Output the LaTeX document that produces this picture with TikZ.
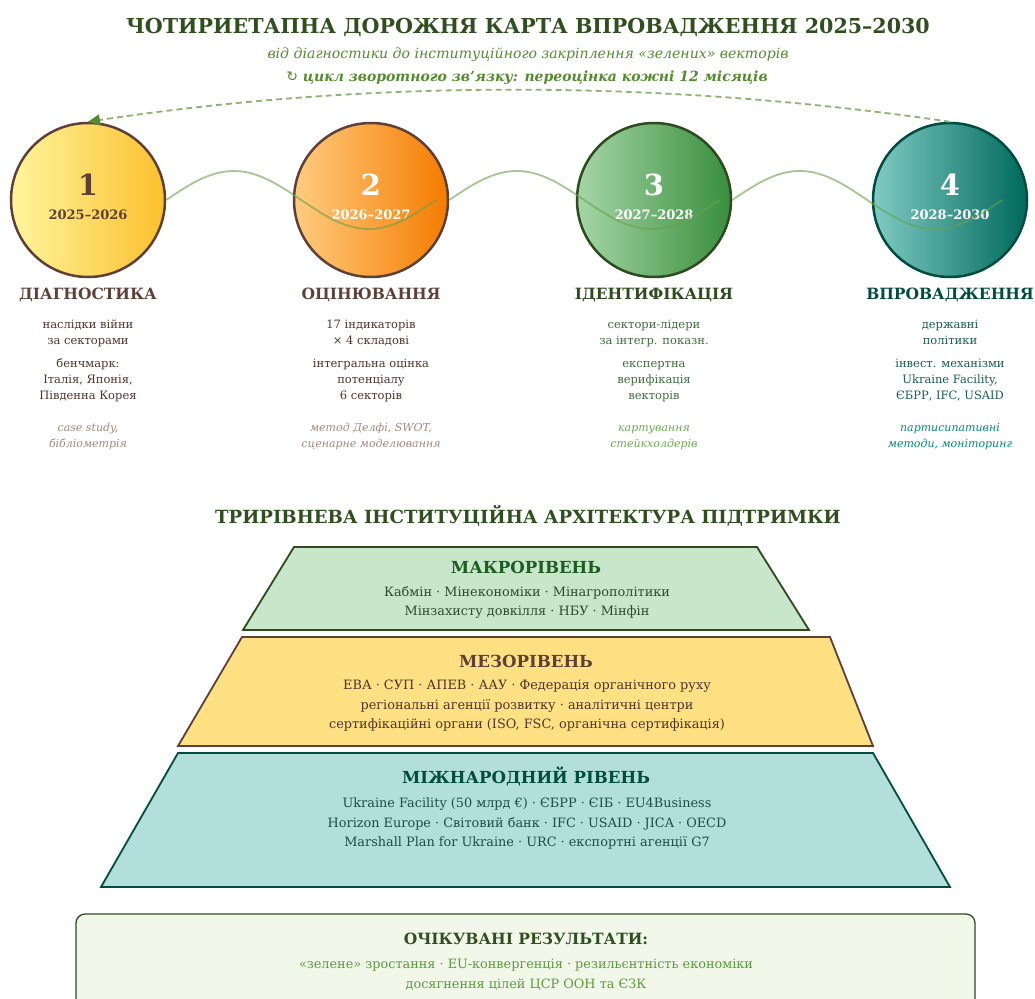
\documentclass[tikz,border=0pt]{standalone}
\usepackage{fontspec}
\setmainfont{DejaVu Serif}
\newfontfamily\symfont{DejaVu Sans}
\usetikzlibrary{arrows.meta}

\definecolor{titlegreen}{HTML}{2F4F1F}
\definecolor{subgreen}{HTML}{558B2F}
\definecolor{arcgreen}{HTML}{8DB36E}
\definecolor{wavegreen}{HTML}{6A9F4A}
\definecolor{brownline}{HTML}{5D4037}
\definecolor{browntext}{HTML}{4E342E}
\definecolor{brownsoft}{HTML}{A1887F}
\definecolor{darkgreen}{HTML}{2E4A1E}
\definecolor{greentext}{HTML}{3E6E3E}
\definecolor{greensoft}{HTML}{6AA84F}
\definecolor{tealline}{HTML}{004D40}
\definecolor{tealtext}{HTML}{1B5E50}
\definecolor{tealsoft}{HTML}{00897B}
\definecolor{macrofill}{HTML}{C8E6C9}
\definecolor{macrotitle}{HTML}{1B5E20}
\definecolor{macrotext}{HTML}{2E4A2E}
\definecolor{mesofill}{HTML}{FFE082}
\definecolor{intlfill}{HTML}{B2DFDB}
\definecolor{intltext}{HTML}{1E4D45}
\definecolor{resultfill}{HTML}{F1F8E9}
\definecolor{resulttext}{HTML}{5B9A3C}
\definecolor{sunlight}{HTML}{FFF59D}
\definecolor{sundeep}{HTML}{FBC02D}
\definecolor{peach}{HTML}{FFCC80}
\definecolor{deeporange}{HTML}{F57C00}
\definecolor{mint}{HTML}{A5D6A7}
\definecolor{leaf}{HTML}{388E3C}
\definecolor{aqua}{HTML}{80CBC4}
\definecolor{deepteal}{HTML}{00695C}

\newcommand\fsz[2]{\fontsize{#1}{#2}\selectfont}

\begin{document}
\begin{tikzpicture}[x=1pt,y=-1pt,
  stagecircle/.style={circle, minimum size=154pt, inner sep=0pt, line width=2.5pt},
  numtext/.style={font=\fsz{29}{32}\bfseries},
  yeartext/.style={font=\fsz{13}{15}\bfseries},
  stagetitle/.style={font=\fsz{15.5}{18}\bfseries},
  body/.style={font=\fsz{11.5}{16}, align=center, inner sep=0pt},
  bodyit/.style={font=\fsz{11}{16}\itshape, align=center, inner sep=0pt},
  wave/.style={draw=wavegreen, line width=1.8pt, opacity=0.6},
  feedback/.style={draw=arcgreen, line width=1.8pt, dash pattern=on 6pt off 4pt,
    -{Triangle[length=12pt,width=11pt,fill=subgreen,color=subgreen]}},
  leveltitle/.style={font=\fsz{16.6}{19}\bfseries},
  leveltext/.style={font=\fsz{12.85}{19.5}, align=center, inner sep=0pt},
  tier/.style={line width=1.8pt}
]
\useasboundingbox (0,0) rectangle (1035,998);

% ---------- headings ----------
\node[font=\fsz{20.6}{24}\bfseries, text=titlegreen] (title) at (528,27.5)
  {ЧОТИРИЕТАПНА ДОРОЖНЯ КАРТА ВПРОВАДЖЕННЯ 2025–2030};
\node[font=\fsz{14.1}{17}\itshape, text=subgreen] (subtitle) at (528,54.5)
  {від діагностики до інституційного закріплення «зелених» векторів};
\node[font=\fsz{14}{17}\bfseries\itshape, text=subgreen] (cycle) at (527,77.5)
  {{\symfont\mdseries\upshape ↻} цикл зворотного зв\char"0027язку: переоцінка кожні 12 місяців};

% ---------- stage circles ----------
\node[stagecircle, draw=brownline, left color=sunlight, right color=sundeep] (c1) at (88,200) {};
\node[stagecircle, draw=brownline, left color=peach, right color=deeporange] (c2) at (371,200) {};
\node[stagecircle, draw=darkgreen, left color=mint, right color=leaf] (c3) at (654,200) {};
\node[stagecircle, draw=tealline, left color=aqua, right color=deepteal] (c4) at (950,200) {};

% numbers and years
\node[numtext, text=brownline] (n1) at (88,185) {1};
\node[yeartext, text=brownline] (y1) at (88,215) {2025–2026};
\node[numtext, text=white] (n2) at (371,185) {2};
\node[yeartext, text=white] (y2) at (371,215) {2026–2027};
\node[numtext, text=white] (n3) at (654,185) {3};
\node[yeartext, text=white] (y3) at (654,215) {2027–2028};
\node[numtext, text=white] (n4) at (950,185) {4};
\node[yeartext, text=white] (y4) at (950,215) {2028–2030};

% sine links between the stages
\foreach \s in {c1,c2,c3}
  \draw[wave, shift={(\s.east)}] plot[domain=0:270, samples=90, smooth] (\x, {-29*sin(\x*4/3)});

% feedback loop back to the first stage
\draw[feedback] (c4.north) .. controls +(-287,-42) and +(287,-43) .. (c1.north);

% ---------- stage descriptions ----------
\node[stagetitle, text=brownline] (t1) at (88,295) {ДІАГНОСТИКА};
\node[stagetitle, text=brownline] (t2) at (371,295) {ОЦІНЮВАННЯ};
\node[stagetitle, text=darkgreen] (t3) at (654,295) {ІДЕНТИФІКАЦІЯ};
\node[stagetitle, text=tealline] (t4) at (950,295) {ВПРОВАДЖЕННЯ};

\node[body, text=browntext] (a1) at (88,333) {\strut наслідки війни\\\strut за секторами};
\node[body, text=browntext] (b1) at (88,380) {\strut бенчмарк:\\\strut Італія, Японія,\\\strut Південна Корея};
\node[bodyit, text=brownsoft] (m1) at (88,436) {\strut case study,\\\strut бібліометрія};

\node[body, text=browntext] (a2) at (371,333) {\strut 17 індикаторів\\\strut × 4 складові};
\node[body, text=browntext] (b2) at (371,380) {\strut інтегральна оцінка\\\strut потенціалу\\\strut 6 секторів};
\node[bodyit, text=brownsoft] (m2) at (371,436) {\strut метод Делфі, SWOT,\\\strut сценарне моделювання};

\node[body, text=greentext] (a3) at (654,333) {\strut сектори-лідери\\\strut за інтегр. показн.};
\node[body, text=greentext] (b3) at (654,380) {\strut експертна\\\strut верифікація\\\strut векторів};
\node[bodyit, text=greensoft] (m3) at (654,436) {\strut картування\\\strut стейкхолдерів};

\node[body, text=tealtext] (a4) at (950,333) {\strut державні\\\strut політики};
\node[body, text=tealtext] (b4) at (950,380) {\strut інвест. механізми\\\strut Ukraine Facility,\\\strut ЄБРР, IFC, USAID};
\node[bodyit, text=tealsoft] (m4) at (950,436) {\strut партисипативні\\\strut методи, моніторинг};

% ---------- institutional pyramid ----------
\node[font=\fsz{18.1}{21}\bfseries, text=titlegreen] (archtitle) at (528,515.5)
  {ТРИРІВНЕВА ІНСТИТУЦІЙНА АРХІТЕКТУРА ПІДТРИМКИ};

\draw[tier, draw=darkgreen, fill=macrofill] (294,547) -- (757,547) -- (809,630) -- (243,630) -- cycle;
\node[leveltitle, text=macrotitle] (macro) at (526,567.5) {МАКРОРІВЕНЬ};
\node[leveltext, text=macrotext] (macrol) at (527,602)
  {\strut Кабмін · Мінекономіки · Мінагрополітики\\\strut Мінзахисту довкілля · НБУ · Мінфін};

\draw[tier, draw=brownline, fill=mesofill] (242,637) -- (830,637) -- (873,746) -- (178,746) -- cycle;
\node[leveltitle, text=brownline] (meso) at (526,661.5) {МЕЗОРІВЕНЬ};
\node[leveltext, text=browntext] (mesol) at (527,705.5)
  {\strut ЕВА · СУП · АПЕВ · ААУ · Федерація органічного руху\\\strut регіональні агенції розвитку · аналітичні центри\\\strut сертифікаційні органи (ISO, FSC, органічна сертифікація)};

\draw[tier, draw=tealline, fill=intlfill] (178,753) -- (873,753) -- (950,887) -- (101,887) -- cycle;
\node[leveltitle, text=tealline] (intl) at (526,776.5) {МІЖНАРОДНИЙ РІВЕНЬ};
\node[leveltext, text=intltext] (intll) at (527,823.5)
  {\strut Ukraine Facility (50 млрд €) · ЄБРР · ЄІБ · EU4Business\\\strut Horizon Europe · Світовий банк · IFC · USAID · JICA · OECD\\\strut Marshall Plan for Ukraine · URC · експортні агенції G7};

% ---------- expected results ----------
\begin{scope}
  \clip (0,0) rectangle (1035,998);
  \draw[line width=1.3pt, draw=darkgreen, fill=resultfill, rounded corners=9pt] (76,914) rectangle (975,1012);
\end{scope}
\node[font=\fsz{15.5}{18}\bfseries, text=titlegreen] (restitle) at (526,938.5) {ОЧІКУВАНІ РЕЗУЛЬТАТИ:};
\node[leveltext, text=resulttext] (resl) at (526,974.5)
  {\strut «зелене» зростання · EU-конвергенція · резильєнтність економіки\\\strut досягнення цілей ЦСР ООН та ЄЗК};

\end{tikzpicture}
\end{document}
